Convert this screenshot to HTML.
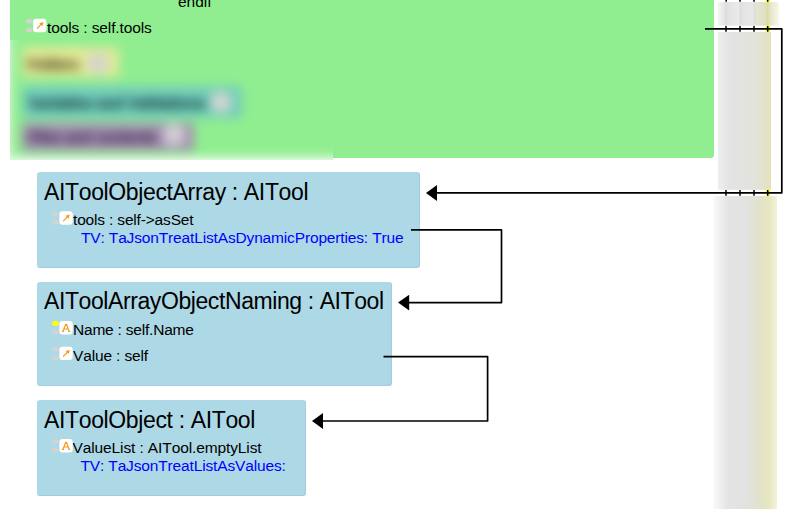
<!DOCTYPE html>
<html><head><meta charset="utf-8">
<style>
html,body{margin:0;padding:0;background:#fff;width:792px;height:509px;overflow:hidden;position:relative;font-family:"Liberation Sans",sans-serif;font-kerning:none;}
.abs{position:absolute;}
.green{left:10px;top:-10px;width:704px;height:168px;background:#90ee90;border-radius:3px;}
.box{position:absolute;background:#add8e6;border-radius:3px;box-shadow:inset -1px -1px 0 rgba(140,190,205,0.35);}
.t{position:absolute;white-space:nowrap;line-height:1;color:#000;}
.title{font-size:23px;}
.row{font-size:15.5px;}
.tv{font-size:15.5px;color:#0000ff;}
.ic{position:absolute;width:21px;height:14px;}
.blurwrap{position:absolute;left:10px;top:40px;width:323px;height:120px;overflow:hidden;}
.blurinner{position:absolute;left:-10px;top:-10px;width:343px;height:140px;filter:blur(5.2px);}
.pill{position:absolute;border-radius:4px;}
.circ{position:absolute;border-radius:50%;background:#d9d9d9;}
.ptxt{position:absolute;white-space:nowrap;font-size:14.7px;font-weight:bold;line-height:1;text-shadow:0.6px 0 0 currentColor,-0.6px 0 0 currentColor,0 0.6px 0 currentColor;}
</style></head>
<body>
<div class="abs green"></div>

<div class="blurwrap"><div class="blurinner">
  <div class="abs" style="left:0;top:0;width:10px;height:140px;background:#e8f8e6"></div>
  <div class="abs" style="left:10px;top:0;width:333px;height:128px;background:#90ee90"></div>
  <div class="abs" style="left:10px;top:128px;width:333px;height:12px;background:#fff"></div>
  <div class="pill" style="left:22px;top:17px;width:97px;height:30px;background:#e3ea96"></div>
  <div class="ptxt" style="left:27px;top:27px;color:#6a6634;font-size:14.3px;">Folders</div>
  <div class="circ" style="left:87px;top:22px;width:22px;height:22px;background:#d4d4cc"></div>
  <div class="pill" style="left:22px;top:56px;width:220px;height:32px;background:#72cdbb"></div>
  <div class="ptxt" style="left:28px;top:65.5px;color:#2a5e5a;">Variables and Validations</div>
  <div class="circ" style="left:209.7px;top:60.7px;width:22px;height:22px;background:#cfd4d2"></div>
  <div class="pill" style="left:22px;top:92.5px;width:172px;height:28.5px;background:#a590b2"></div>
  <div class="ptxt" style="left:28px;top:100px;color:#503f62;">Files and contents</div>
  <div class="circ" style="left:162.6px;top:94.4px;width:22px;height:22px;background:#d2ced6"></div>
</div></div>

<div class="t row" style="left:178px;top:-6px;">endif</div>
<div class="t row" style="left:47px;top:20px;letter-spacing:-0.12px;">tools : self.tools</div>

<!-- boxes -->
<div class="box" style="left:37px;top:172px;width:383px;height:96px;"></div>
<div class="box" style="left:37px;top:282px;width:355px;height:104px;"></div>
<div class="box" style="left:37px;top:400px;width:269px;height:96px;"></div>

<div class="t title" style="left:44px;top:180.7px;letter-spacing:-0.36px;">AIToolObjectArray : AITool</div>
<div class="t row" style="left:73px;top:212px;letter-spacing:-0.17px;">tools : self-&gt;asSet</div>
<div class="t tv" style="left:81px;top:230px;letter-spacing:-0.15px;">TV: TaJsonTreatListAsDynamicProperties: True</div>

<div class="t title" style="left:44px;top:289.6px;letter-spacing:-0.41px;">AIToolArrayObjectNaming : AITool</div>
<div class="t row" style="left:73px;top:322px;letter-spacing:-0.21px;">Name : self.Name</div>
<div class="t row" style="left:73px;top:347.7px;letter-spacing:-0.14px;">Value : self</div>

<div class="t title" style="left:44px;top:408.8px;letter-spacing:-0.36px;">AIToolObject : AITool</div>
<div class="t row" style="left:72.5px;top:440px;letter-spacing:-0.11px;">ValueList : AITool.emptyList</div>
<div class="t tv" style="left:80.5px;top:457.6px;letter-spacing:-0.15px;">TV: TaJsonTreatListAsValues:</div>

<svg class="abs" style="left:0;top:0" width="792" height="509" viewBox="0 0 792 509">
  <defs>
    <linearGradient id="g1" gradientUnits="userSpaceOnUse" x1="718" x2="779" y1="0" y2="0">
      <stop offset="0" stop-color="#f4f4f4"/>
      <stop offset="0.09" stop-color="#e8e8e8"/>
      <stop offset="0.131" stop-color="#dcdcdc"/>
      <stop offset="0.18" stop-color="#e4e4e4"/>
      <stop offset="0.344" stop-color="#eaeaea"/>
      <stop offset="0.361" stop-color="#dddddd"/>
      <stop offset="0.41" stop-color="#e4e4e4"/>
      <stop offset="0.574" stop-color="#e8e8e6"/>
      <stop offset="0.590" stop-color="#dfdfd8"/>
      <stop offset="0.64" stop-color="#e4e4d8"/>
      <stop offset="0.78" stop-color="#e0e0bc"/>
      <stop offset="0.811" stop-color="#dadaae"/>
      <stop offset="0.86" stop-color="#e6e6c8"/>
      <stop offset="1" stop-color="#f8f8ee"/>
    </linearGradient>
    <linearGradient id="g2" gradientUnits="userSpaceOnUse" x1="718" x2="771" y1="0" y2="0">
      <stop offset="0" stop-color="#eeeeee"/>
      <stop offset="0.23" stop-color="#e3e3e3"/>
      <stop offset="0.7" stop-color="#e3e3dc"/>
      <stop offset="1" stop-color="#e2e2ba"/>
    </linearGradient>
    <linearGradient id="g3" gradientUnits="userSpaceOnUse" x1="713" x2="777" y1="0" y2="0">
      <stop offset="0" stop-color="#fafafa"/>
      <stop offset="0.23" stop-color="#e4e4e4"/>
      <stop offset="0.5" stop-color="#e2e2e2"/>
      <stop offset="0.73" stop-color="#e2e2cc"/>
      <stop offset="0.86" stop-color="#e6e6c0"/>
      <stop offset="1" stop-color="#f2f2dc"/>
    </linearGradient>
  </defs>
  <rect x="718" y="2" width="61" height="23.7" fill="url(#g1)"/>
  <rect x="718" y="32" width="53" height="157.8" fill="url(#g2)"/>
  <rect x="713" y="196" width="64" height="313" fill="url(#g3)"/>
  <!-- yellow tick bg -->
  <rect x="765.6" y="0" width="4.4" height="1.8" fill="#ffff00"/>
  <rect x="765.6" y="26" width="4.4" height="5.8" fill="#ffff00"/>
  <rect x="765.6" y="190" width="4.4" height="5.8" fill="#ffff00"/>
  <g stroke="#000" stroke-width="1.5" fill="none">
    <path d="M726.2 0V1.8M740 0V1.8M754 0V1.8M767.7 0V1.8"/>
    <path d="M726 26V31.8M740 26V31.8M754 26V31.8M767.7 26V31.8"/>
    <path d="M726 190V195.8M740 190V195.8M754 190V195.8M767.7 190V195.8"/>
  </g>
  <g stroke="#000" stroke-width="1.7" fill="none" stroke-linejoin="round">
    <path d="M705 28.8H781.8V192.8H437"/>
    <path d="M411 229.9H501.5V302.6H409"/>
    <path d="M383.5 356.6H487.6V421H323"/>
  </g>
  <g fill="#000">
    <path d="M426 193L437 185V201Z"/>
    <path d="M398 302.6L409.2 294.7V310.6Z"/>
    <path d="M312 421L323 413V429Z"/>
  </g>
  <!-- icons -->
  
  <g transform="translate(33.1 18.8)">
      <rect x="-7.3" y="0.1" width="6.6" height="4.5" rx="2.2" fill="#d3d3d3"/>
      <rect x="-7.3" y="8.9" width="6.6" height="4.4" rx="2.2" fill="#d3d3d3"/>
      <rect x="0" y="0" width="13.3" height="13.4" rx="3" fill="#fff"/>
      <path d="M3.8 9.8L8.4 5.2" stroke="#f59a1c" stroke-width="1.15" fill="none"/>
      <path d="M10.4 3.3L6.3 4.4L9.3 7.4Z" fill="#f59a1c"/>
    </g>
  <g transform="translate(59.4 211.3)">
      <rect x="-7.3" y="0.1" width="6.6" height="4.5" rx="2.2" fill="#d3d3d3"/>
      <rect x="-7.3" y="8.9" width="6.6" height="4.4" rx="2.2" fill="#d3d3d3"/>
      <rect x="0" y="0" width="13.3" height="13.4" rx="3" fill="#fff"/>
      <path d="M3.8 9.8L8.4 5.2" stroke="#f59a1c" stroke-width="1.15" fill="none"/>
      <path d="M10.4 3.3L6.3 4.4L9.3 7.4Z" fill="#f59a1c"/>
    </g>
  <g transform="translate(59.4 321.1)">
      <rect x="-7.3" y="0.1" width="6.6" height="4.5" rx="2.2" fill="#d3d3d3"/>
      <rect x="-7.3" y="8.9" width="6.6" height="4.4" rx="2.2" fill="#d3d3d3"/>
      <rect x="0" y="0" width="13.3" height="13.4" rx="3" fill="#fff"/>
      <g stroke="#f5960f" stroke-width="1.1" fill="none" stroke-linecap="butt">
        <path d="M3.4 10.4L6.2 3.6M9.9 10.4L7.1 3.6M4.7 7.9H8.6M2.5 10.4H4.5M8.8 10.4H10.8"/>
        <path d="M5.5 3.5H7.8" stroke-width="1.4"/>
      </g>
    </g>
  <rect x="52.1" y="321" width="6.8" height="5" rx="2.4" fill="#ffff00"/>
  <g transform="translate(59.4 346.7)">
      <rect x="-7.3" y="0.1" width="6.6" height="4.5" rx="2.2" fill="#d3d3d3"/>
      <rect x="-7.3" y="8.9" width="6.6" height="4.4" rx="2.2" fill="#d3d3d3"/>
      <rect x="0" y="0" width="13.3" height="13.4" rx="3" fill="#fff"/>
      <path d="M3.8 9.8L8.4 5.2" stroke="#f59a1c" stroke-width="1.15" fill="none"/>
      <path d="M10.4 3.3L6.3 4.4L9.3 7.4Z" fill="#f59a1c"/>
    </g>
  <g transform="translate(59.4 439.1)">
      <rect x="-7.3" y="0.1" width="6.6" height="4.5" rx="2.2" fill="#d3d3d3"/>
      <rect x="-7.3" y="8.9" width="6.6" height="4.4" rx="2.2" fill="#d3d3d3"/>
      <rect x="0" y="0" width="13.3" height="13.4" rx="3" fill="#fff"/>
      <g stroke="#f5960f" stroke-width="1.1" fill="none" stroke-linecap="butt">
        <path d="M3.4 10.4L6.2 3.6M9.9 10.4L7.1 3.6M4.7 7.9H8.6M2.5 10.4H4.5M8.8 10.4H10.8"/>
        <path d="M5.5 3.5H7.8" stroke-width="1.4"/>
      </g>
    </g>
</svg>
</body></html>
